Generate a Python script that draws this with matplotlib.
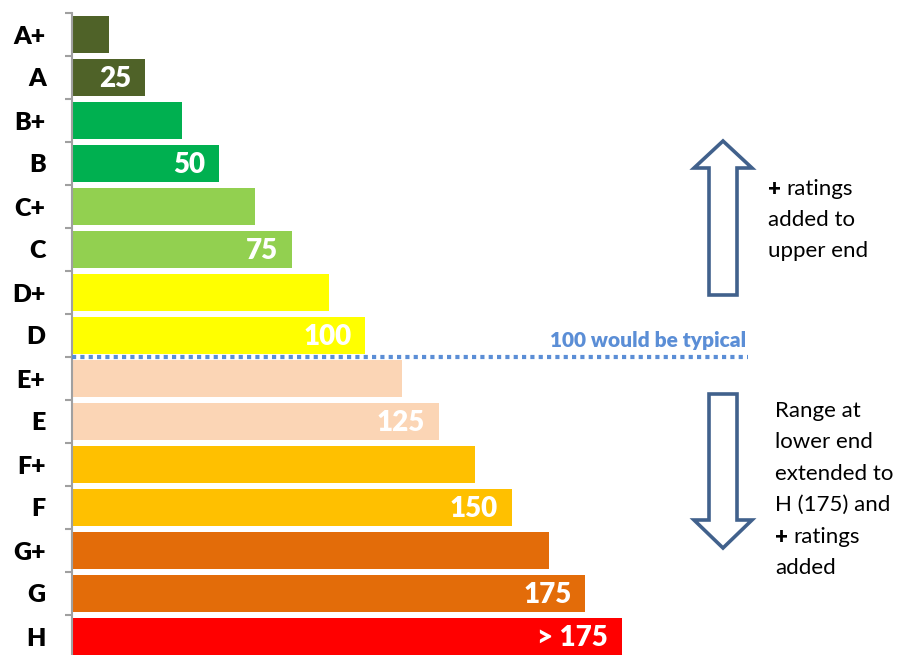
import numpy as np
import matplotlib
matplotlib.use("Agg")
import matplotlib.pyplot as plt
from matplotlib.patches import Polygon

plt.rcParams['font.family'] = ['Lato', 'DejaVu Sans']

# Rating bands, top to bottom
ratings = ['A+', 'A', 'B+', 'B', 'C+', 'C', 'D+', 'D',
           'E+', 'E', 'F+', 'F', 'G+', 'G', 'H']
values = [12.5, 25, 37.5, 50, 62.5, 75, 87.5, 100,
          112.5, 125, 137.5, 150, 162.5, 175, 187.5]
value_labels = ['', '25', '', '50', '', '75', '', '100',
                '', '125', '', '150', '', '175', '> 175']
colors = ['#4F6228', '#4F6228', '#00B050', '#00B050', '#92D050', '#92D050',
          '#FFFF00', '#FFFF00', '#FBD5B5', '#FBD5B5', '#FFC000', '#FFC000',
          '#E36C09', '#E36C09', '#FF0000']
typical = 100

W, H = 902, 655
fig = plt.figure(figsize=(W / 100, H / 100), dpi=100)

# main axes: left spine at x=72px, first row starts at y=13px, 43px per row
ax = fig.add_axes([72 / W, (H - 658) / H, 1 - 72 / W, 645 / H])
y = np.arange(len(ratings)) + 0.5
ax.barh(y, values, height=0.86, color=colors, left=0)
ax.set_xlim(0, 283)
ax.set_ylim(len(ratings), 0)

for yi, v, lab in zip(y, values, value_labels):
    if lab:
        ax.annotate(lab, (v, yi), xytext=(-10, -1), textcoords='offset points',
                    ha='right', va='center', color='white',
                    fontsize=20, fontweight='heavy')

# typical line between D and E+
d_idx = ratings.index('D')
ax.hlines(d_idx + 1, 0, 230.5, colors='#5B8ED6', linewidth=3,
          linestyles=(0, (1, 1)), zorder=3)
ax.text(230, d_idx + 1 - 0.17, '100 would be typical', ha='right', va='bottom',
        color='#5B8ED6', fontsize=15, fontweight='heavy')

for s in ['top', 'right', 'bottom']:
    ax.spines[s].set_visible(False)
ax.spines['left'].set_color('#A0A0A0')
ax.spines['left'].set_linewidth(1.5)
ax.set_xticks([])
ax.set_yticks(np.arange(len(ratings) + 1))
ax.set_yticklabels([])
ax.tick_params(axis='y', which='major', length=5, width=1.5, color='#A0A0A0')
ax.set_yticks(y, minor=True)
ax.set_yticklabels(ratings, minor=True, fontsize=18, fontweight='heavy')
ax.tick_params(axis='y', which='minor', length=0, pad=19)

# overlay in pixel coordinates for arrows and notes
ov = fig.add_axes([0, 0, 1, 1])
ov.set_xlim(0, W)
ov.set_ylim(H, 0)
ov.axis('off')

arrow_col = '#41618C'
up = [(723, 141), (752, 168), (737, 168), (737, 295), (709, 295),
      (709, 168), (694, 168)]
down = [(709, 394), (737, 394), (737, 520), (752, 520), (723, 548),
        (694, 520), (709, 520)]
for pts in (up, down):
    ov.add_patch(Polygon(pts, closed=True, facecolor='white',
                         edgecolor=arrow_col, linewidth=2.6, joinstyle='miter'))

note_size = 16
ov.text(768, 189, '+', fontsize=note_size, fontweight='heavy', va='center')
ov.text(786, 189, 'ratings', fontsize=note_size, va='center')
ov.text(768, 220, 'added to', fontsize=note_size, va='center')
ov.text(768, 251, 'upper end', fontsize=note_size, va='center')

lower = ['Range at', 'lower end', 'extended to', 'H (175) and']
for i, line in enumerate(lower):
    ov.text(775, 411 + i * 31.4, line, fontsize=note_size, va='center')
ov.text(775, 537, '+', fontsize=note_size, fontweight='heavy', va='center')
ov.text(793, 537, 'ratings', fontsize=note_size, va='center')
ov.text(775, 568, 'added', fontsize=note_size, va='center')

fig.savefig('out.png', dpi=100)
